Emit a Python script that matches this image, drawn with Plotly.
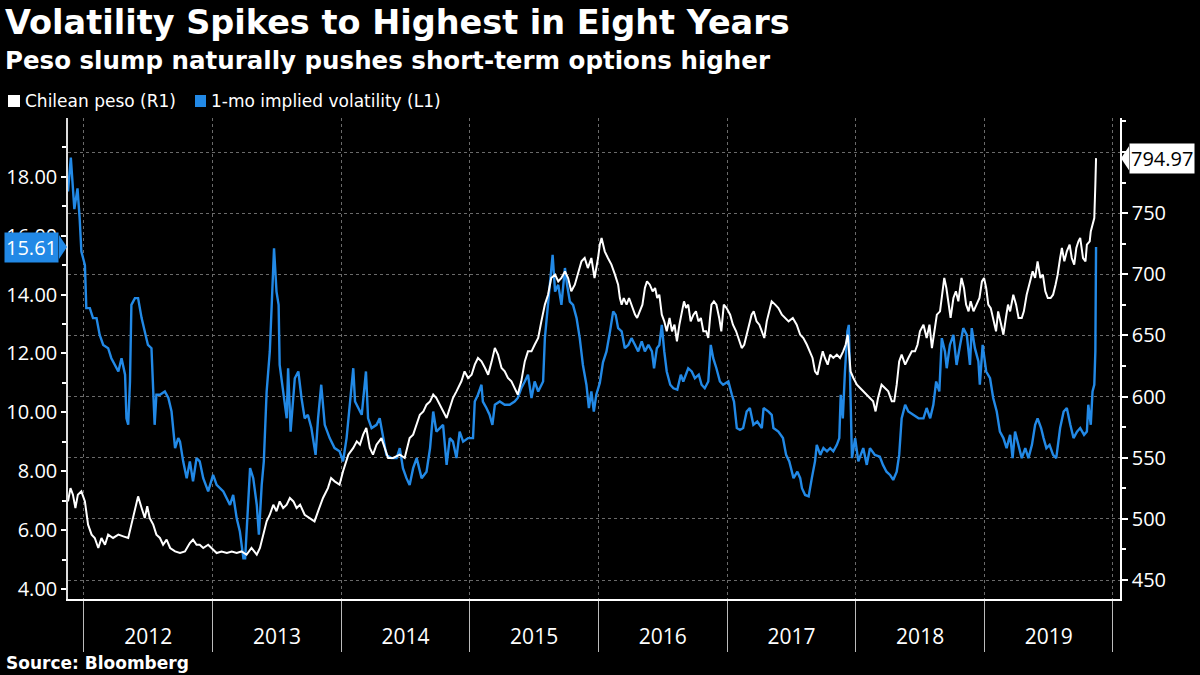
import plotly.graph_objects as go

# ---------------- data ----------------
vol_dates = [
    "2011-11-17", "2011-11-25", "2011-12-05", "2011-12-14", "2011-12-20", "2011-12-25",
    "2012-01-04", "2012-01-08", "2012-01-18", "2012-01-27", "2012-02-06", "2012-02-15",
    "2012-02-25", "2012-03-10", "2012-03-19", "2012-03-29", "2012-04-08", "2012-04-17",
    "2012-04-27", "2012-05-01", "2012-05-06", "2012-05-11", "2012-05-15", "2012-05-25",
    "2012-06-03", "2012-06-13", "2012-06-22", "2012-07-01", "2012-07-11", "2012-07-16",
    "2012-07-20", "2012-07-25", "2012-08-04", "2012-08-18", "2012-08-28", "2012-09-06",
    "2012-09-16", "2012-09-25", "2012-09-30", "2012-10-09", "2012-10-19", "2012-10-28",
    "2012-11-06", "2012-11-16", "2012-11-25", "2012-12-05", "2012-12-19", "2013-01-02",
    "2013-01-12", "2013-01-31", "2013-02-10", "2013-02-19", "2013-02-28", "2013-03-10",
    "2013-03-19", "2013-03-29", "2013-04-03", "2013-04-17", "2013-04-26", "2013-05-06",
    "2013-05-12", "2013-05-20", "2013-05-26", "2013-06-03", "2013-06-12", "2013-06-20",
    "2013-06-24", "2013-07-01", "2013-07-07", "2013-07-10", "2013-07-20", "2013-07-30",
    "2013-08-03", "2013-08-10", "2013-08-22", "2013-09-01", "2013-09-10", "2013-09-19",
    "2013-09-28", "2013-10-08", "2013-10-20", "2013-10-27", "2013-11-05", "2013-11-15",
    "2013-11-29", "2013-12-13", "2013-12-27", "2014-01-06", "2014-01-16", "2014-01-25",
    "2014-02-04", "2014-02-09", "2014-02-18", "2014-02-28", "2014-03-12", "2014-03-18",
    "2014-03-28", "2014-04-11", "2014-04-20", "2014-04-29", "2014-05-09", "2014-05-23",
    "2014-06-07", "2014-06-16", "2014-06-25", "2014-07-05", "2014-07-14", "2014-07-24",
    "2014-08-03", "2014-08-17", "2014-08-31", "2014-09-10", "2014-09-19", "2014-09-28",
    "2014-10-08", "2014-10-17", "2014-10-27", "2014-11-05", "2014-11-14", "2014-11-24",
    "2014-12-03", "2014-12-13", "2014-12-27", "2015-01-10", "2015-01-15", "2015-01-24",
    "2015-02-03", "2015-02-07", "2015-02-17", "2015-02-26", "2015-03-06", "2015-03-13",
    "2015-03-27", "2015-04-10", "2015-04-24", "2015-05-08", "2015-05-17", "2015-05-27",
    "2015-06-06", "2015-06-15", "2015-06-25", "2015-07-04", "2015-07-14", "2015-07-28",
    "2015-08-02", "2015-08-11", "2015-08-24", "2015-08-31", "2015-09-09", "2015-09-18",
    "2015-09-28", "2015-10-04", "2015-10-12", "2015-10-21", "2015-10-31", "2015-11-09",
    "2015-11-18", "2015-11-28", "2015-12-05", "2015-12-12", "2015-12-19", "2015-12-26",
    "2016-01-05", "2016-01-14", "2016-01-24", "2016-02-03", "2016-02-12", "2016-02-19",
    "2016-02-26", "2016-03-07", "2016-03-16", "2016-03-26", "2016-04-04", "2016-04-14",
    "2016-04-23", "2016-05-03", "2016-05-12", "2016-05-22", "2016-06-01", "2016-06-07",
    "2016-06-15", "2016-06-22", "2016-06-29", "2016-07-06", "2016-07-13", "2016-07-23",
    "2016-08-01", "2016-08-12", "2016-08-22", "2016-08-29", "2016-09-12", "2016-09-22",
    "2016-10-01", "2016-10-12", "2016-10-20", "2016-10-29", "2016-11-08", "2016-11-15",
    "2016-11-22", "2016-12-01", "2016-12-11", "2016-12-20", "2017-01-04", "2017-01-14",
    "2017-01-20", "2017-01-28", "2017-02-06", "2017-02-15", "2017-02-25", "2017-03-06",
    "2017-03-16", "2017-03-27", "2017-04-09", "2017-04-14", "2017-04-28", "2017-05-07",
    "2017-05-12", "2017-05-26", "2017-06-08", "2017-06-17", "2017-06-26", "2017-07-08",
    "2017-07-19", "2017-07-27", "2017-08-01", "2017-08-10", "2017-08-20", "2017-08-29",
    "2017-09-07", "2017-09-12", "2017-09-22", "2017-10-01", "2017-10-11", "2017-10-20",
    "2017-10-29", "2017-11-08", "2017-11-15", "2017-11-19", "2017-11-25", "2017-12-01",
    "2017-12-08", "2017-12-12", "2017-12-16", "2017-12-21", "2017-12-30", "2018-01-08",
    "2018-01-22", "2018-02-01", "2018-02-10", "2018-02-24", "2018-03-10", "2018-03-19",
    "2018-03-29", "2018-04-08", "2018-04-17", "2018-04-27", "2018-05-04", "2018-05-11",
    "2018-05-21", "2018-05-30", "2018-06-13", "2018-06-28", "2018-07-12", "2018-07-21",
    "2018-07-31", "2018-08-09", "2018-08-17", "2018-08-26", "2018-09-02", "2018-09-11",
    "2018-09-16", "2018-09-25", "2018-10-05", "2018-10-14", "2018-10-24", "2018-11-02",
    "2018-11-12", "2018-11-21", "2018-11-26", "2018-12-05", "2018-12-15", "2018-12-19",
    "2018-12-27", "2019-01-06", "2019-01-17", "2019-01-26", "2019-02-05", "2019-02-14",
    "2019-02-24", "2019-03-05", "2019-03-15", "2019-03-22", "2019-03-29", "2019-04-08",
    "2019-04-17", "2019-04-27", "2019-05-06", "2019-05-16", "2019-05-25", "2019-06-01",
    "2019-06-11", "2019-06-18", "2019-06-26", "2019-07-05", "2019-07-15", "2019-07-24",
    "2019-08-04", "2019-08-14", "2019-08-23", "2019-09-02", "2019-09-11", "2019-09-21",
    "2019-09-30", "2019-10-11", "2019-10-19", "2019-10-23", "2019-10-30", "2019-11-04",
    "2019-11-09", "2019-11-12", "2019-11-14",
]
vol_values = [
    17.5, 18.65, 16.9, 17.6, 16.6, 15.46,
    15.0, 13.54, 13.54, 13.2, 13.2, 12.63,
    12.29, 12.18, 11.84, 11.61, 11.39, 11.84,
    11.28, 9.8, 9.58, 11.05, 13.65, 13.88,
    13.88, 13.2, 12.75, 12.29, 12.18, 10.93,
    9.58, 10.6, 10.6, 10.71, 10.49, 10.03,
    8.79, 9.13, 9.01, 8.34, 7.77, 8.34,
    7.66, 8.45, 8.34, 7.77, 7.32, 7.88,
    7.54, 7.32, 7.09, 6.86, 7.2, 6.41,
    5.96, 5.05, 5.05, 8.11, 7.77, 6.86,
    5.85, 7.54, 8.34, 10.71, 12.07, 14.33,
    15.57, 14.1, 13.65, 11.61, 10.71, 9.8,
    11.5, 9.35, 11.16, 11.39, 10.49, 9.8,
    9.92, 9.47, 8.56, 9.8, 10.94, 9.58,
    9.13, 8.79, 8.68, 8.34, 9.13, 10.37,
    11.5, 10.37, 10.15, 9.92, 11.39, 9.8,
    9.47, 9.58, 9.8, 9.24, 8.56, 8.45,
    8.45, 8.79, 8.11, 7.77, 7.54, 8.11,
    8.45, 7.77, 7.99, 8.79, 10.03, 9.35,
    9.47, 9.58, 8.22, 9.13, 9.01, 8.45,
    9.35, 9.01, 9.13, 9.13, 10.37, 10.6,
    10.94, 10.37, 10.15, 9.92, 9.58, 10.26,
    10.37, 10.26, 10.26, 10.37, 10.49, 10.82,
    11.05, 11.28, 10.49, 11.05, 10.71, 11.05,
    12.52, 13.65, 15.35, 14.1, 14.33, 13.65,
    14.9, 14.33, 13.76, 13.65, 13.2, 12.52,
    11.61, 10.94, 10.15, 10.71, 10.03, 10.6,
    11.0, 11.7, 12.07, 12.75, 13.43, 13.31,
    12.86, 12.75, 12.18, 12.29, 12.52, 12.29,
    12.07, 12.41, 12.07, 12.29, 12.07, 11.5,
    12.18, 12.29, 12.97, 12.07, 11.39, 10.94,
    10.82, 10.77, 11.28, 11.05, 11.5, 11.39,
    11.16, 11.28, 10.94, 10.82, 11.05, 12.29,
    11.84, 11.5, 11.05, 10.94, 11.05, 10.6,
    10.37, 9.47, 9.41, 9.47, 10.03, 10.15,
    9.58, 9.69, 9.47, 10.15, 10.03, 9.92,
    9.47, 9.35, 9.13, 8.56, 8.34, 7.77,
    7.99, 7.77, 7.43, 7.2, 7.15, 7.77,
    8.34, 8.9, 8.56, 8.79, 8.68, 8.79,
    8.68, 8.9, 9.13, 10.6, 9.8, 11.39,
    12.75, 12.97, 10.94, 8.45, 9.13, 8.34,
    8.79, 8.22, 8.79, 8.56, 8.5, 8.22,
    7.99, 7.88, 7.71, 7.99, 8.56, 9.8,
    10.26, 10.03, 9.92, 9.8, 9.8, 10.15,
    9.8, 10.26, 11.05, 10.71, 12.52, 12.07,
    11.5, 12.29, 12.63, 11.61, 12.29, 12.86,
    12.63, 11.61, 12.86, 12.18, 11.73, 10.94,
    12.29, 11.39, 11.16, 10.49, 10.03, 9.35,
    9.13, 8.79, 9.24, 8.45, 9.35, 8.9,
    8.45, 8.79, 8.45, 8.9, 9.58, 9.8,
    9.47, 9.13, 8.79, 8.9, 8.56, 8.45,
    9.47, 10.03, 10.15, 9.58, 9.13, 9.35,
    9.47, 9.24, 9.35, 10.26, 9.58, 10.71,
    10.94, 12.07, 15.61,
]

peso_dates = [
    "2011-11-17", "2011-11-24", "2011-12-01", "2011-12-08", "2011-12-15", "2011-12-25",
    "2012-01-04", "2012-01-13", "2012-01-23", "2012-02-01", "2012-02-11", "2012-02-20",
    "2012-03-01", "2012-03-10", "2012-03-24", "2012-04-08", "2012-04-22", "2012-05-06",
    "2012-05-15", "2012-05-25", "2012-06-03", "2012-06-13", "2012-06-22", "2012-06-29",
    "2012-07-06", "2012-07-16", "2012-07-25", "2012-08-04", "2012-08-13", "2012-08-23",
    "2012-09-02", "2012-09-16", "2012-09-30", "2012-10-14", "2012-10-28", "2012-11-06",
    "2012-11-16", "2012-11-25", "2012-12-05", "2012-12-19", "2012-12-29", "2013-01-12",
    "2013-01-26", "2013-02-10", "2013-02-24", "2013-03-10", "2013-03-24", "2013-04-07",
    "2013-04-21", "2013-05-06", "2013-05-15", "2013-05-24", "2013-06-03", "2013-06-12",
    "2013-06-22", "2013-07-01", "2013-07-10", "2013-07-20", "2013-07-30", "2013-08-08",
    "2013-08-18", "2013-08-27", "2013-09-06", "2013-09-19", "2013-10-03", "2013-10-17",
    "2013-10-27", "2013-11-10", "2013-11-24", "2013-12-03", "2013-12-13", "2013-12-27",
    "2014-01-06", "2014-01-21", "2014-02-04", "2014-02-14", "2014-02-23", "2014-03-04",
    "2014-03-13", "2014-03-23", "2014-04-01", "2014-04-11", "2014-04-25", "2014-05-05",
    "2014-05-14", "2014-05-28", "2014-06-16", "2014-06-30", "2014-07-14", "2014-07-24",
    "2014-08-03", "2014-08-12", "2014-08-22", "2014-08-31", "2014-09-10", "2014-09-19",
    "2014-09-28", "2014-10-08", "2014-10-17", "2014-10-27", "2014-11-05", "2014-11-14",
    "2014-11-24", "2014-12-08", "2014-12-17", "2014-12-27", "2015-01-06", "2015-01-15",
    "2015-01-24", "2015-02-03", "2015-02-13", "2015-02-22", "2015-03-04", "2015-03-13",
    "2015-03-22", "2015-04-01", "2015-04-10", "2015-04-19", "2015-04-29", "2015-05-08",
    "2015-05-17", "2015-05-27", "2015-06-06", "2015-06-15", "2015-06-25", "2015-07-04",
    "2015-07-14", "2015-07-23", "2015-08-02", "2015-08-11", "2015-08-20", "2015-08-31",
    "2015-09-09", "2015-09-18", "2015-09-28", "2015-10-07", "2015-10-16", "2015-10-26",
    "2015-11-04", "2015-11-14", "2015-11-23", "2015-12-02", "2015-12-12", "2015-12-21",
    "2015-12-31", "2016-01-05", "2016-01-10", "2016-01-19", "2016-01-28", "2016-02-07",
    "2016-02-17", "2016-02-26", "2016-03-02", "2016-03-07", "2016-03-13", "2016-03-21",
    "2016-03-28", "2016-04-04", "2016-04-14", "2016-04-20", "2016-04-28", "2016-05-05",
    "2016-05-12", "2016-05-18", "2016-05-26", "2016-06-03", "2016-06-10", "2016-06-16",
    "2016-06-22", "2016-06-29", "2016-07-06", "2016-07-13", "2016-07-21", "2016-07-28",
    "2016-08-04", "2016-08-11", "2016-08-18", "2016-08-25", "2016-08-31", "2016-09-06",
    "2016-09-12", "2016-09-19", "2016-09-27", "2016-10-04", "2016-10-11", "2016-10-18",
    "2016-10-25", "2016-11-02", "2016-11-08", "2016-11-13", "2016-11-17", "2016-11-24",
    "2016-12-01", "2016-12-09", "2016-12-15", "2016-12-22", "2016-12-30", "2017-01-09",
    "2017-01-17", "2017-01-26", "2017-02-05", "2017-02-11", "2017-02-18", "2017-02-25",
    "2017-03-04", "2017-03-11", "2017-03-17", "2017-03-25", "2017-04-02", "2017-04-09",
    "2017-04-16", "2017-04-23", "2017-05-01", "2017-05-07", "2017-05-17", "2017-05-26",
    "2017-06-05", "2017-06-14", "2017-06-24", "2017-07-06", "2017-07-17", "2017-07-27",
    "2017-08-05", "2017-08-15", "2017-08-24", "2017-08-31", "2017-09-07", "2017-09-14",
    "2017-09-22", "2017-09-29", "2017-10-05", "2017-10-13", "2017-10-20", "2017-10-29",
    "2017-11-08", "2017-11-17", "2017-11-26", "2017-12-03", "2017-12-09", "2017-12-13",
    "2017-12-17", "2017-12-25", "2018-01-04", "2018-01-13", "2018-01-22", "2018-02-01",
    "2018-02-10", "2018-02-19", "2018-02-26", "2018-03-05", "2018-03-15", "2018-03-24",
    "2018-04-03", "2018-04-13", "2018-04-20", "2018-04-27", "2018-05-04", "2018-05-11",
    "2018-05-21", "2018-05-30", "2018-06-09", "2018-06-18", "2018-06-25", "2018-07-02",
    "2018-07-12", "2018-07-21", "2018-07-29", "2018-08-05", "2018-08-11", "2018-08-19",
    "2018-08-28", "2018-09-05", "2018-09-09", "2018-09-15", "2018-09-21", "2018-09-27",
    "2018-10-05", "2018-10-12", "2018-10-19", "2018-10-28", "2018-11-04", "2018-11-10",
    "2018-11-17", "2018-11-23", "2018-12-01", "2018-12-10", "2018-12-18", "2018-12-25",
    "2018-12-31", "2019-01-06", "2019-01-12", "2019-01-19", "2019-01-26", "2019-02-03",
    "2019-02-09", "2019-02-16", "2019-02-24", "2019-03-03", "2019-03-09", "2019-03-15",
    "2019-03-24", "2019-04-01", "2019-04-08", "2019-04-17", "2019-04-23", "2019-05-01",
    "2019-05-10", "2019-05-18", "2019-05-25", "2019-06-01", "2019-06-09", "2019-06-16",
    "2019-06-23", "2019-06-30", "2019-07-08", "2019-07-15", "2019-07-22", "2019-07-28",
    "2019-08-04", "2019-08-09", "2019-08-16", "2019-08-23", "2019-08-31", "2019-09-06",
    "2019-09-13", "2019-09-19", "2019-09-25", "2019-09-30", "2019-10-08", "2019-10-15",
    "2019-10-19", "2019-10-27", "2019-10-30", "2019-11-04", "2019-11-07", "2019-11-09",
    "2019-11-12", "2019-11-14",
]
peso_values = [
    514.3, 525.2, 519.8, 508.9, 519.8, 522.5,
    514.3, 495.3, 487.1, 484.4, 476.2, 484.4,
    478.9, 487.1, 484.4, 487.1, 485.7, 484.4,
    495.3, 508.9, 518.4, 508.9, 500.7, 510.3,
    500.7, 495.3, 487.1, 484.4, 478.9, 483.0,
    476.2, 473.4, 472.1, 473.4, 480.3, 483.0,
    478.9, 478.9, 476.2, 478.9, 476.2, 472.1,
    473.4, 472.1, 473.4, 472.1, 473.4, 470.7,
    476.2, 470.7, 476.2, 487.1, 498.0, 503.4,
    511.6, 506.2, 514.3, 508.9, 511.6, 517.1,
    514.3, 508.9, 511.6, 503.4, 500.7, 498.0,
    506.2, 517.1, 525.2, 533.4, 530.7, 528.0,
    538.9, 552.5, 558.0, 563.4, 560.7, 568.9,
    574.3, 558.0, 552.5, 560.7, 566.1, 558.0,
    549.8, 549.8, 552.5, 549.8, 566.1, 568.9,
    577.0, 585.2, 587.9, 593.4, 596.1, 601.6,
    598.8, 593.4, 587.9, 582.5, 590.7, 598.8,
    604.3, 612.5, 620.6, 615.2, 617.9, 626.1,
    631.6, 628.8, 623.4, 617.9, 628.8, 639.7,
    634.3, 623.4, 620.6, 615.2, 612.5, 607.0,
    601.6, 612.5, 628.8, 637.0, 637.0, 642.4,
    647.9, 661.5, 675.2, 683.3, 697.0, 699.7,
    694.2, 697.0, 702.4, 697.0, 686.1, 691.5,
    699.7, 710.6, 713.3, 705.1, 713.3, 697.0,
    713.3, 724.2, 729.7, 718.8, 713.3, 707.9,
    699.7, 691.5, 680.6, 675.2, 680.6, 675.2,
    680.6, 675.2, 667.0, 664.3, 669.7, 675.2,
    688.8, 694.2, 691.5, 686.1, 688.8, 680.6,
    683.3, 667.0, 661.5, 653.4, 664.3, 653.4,
    658.8, 645.2, 658.8, 669.7, 677.9, 672.4,
    675.2, 661.5, 667.0, 669.7, 661.5, 664.3,
    653.4, 653.4, 647.9, 664.3, 675.2, 677.9,
    675.2, 664.3, 653.4, 675.2, 672.4, 667.0,
    658.8, 653.4, 645.2, 639.7, 642.4, 650.6,
    658.8, 667.0, 669.7, 661.5, 658.8, 653.4,
    647.9, 661.5, 672.4, 677.9, 675.2, 672.4,
    667.0, 664.3, 661.5, 664.3, 658.8, 650.6,
    647.9, 642.4, 637.0, 631.6, 620.6, 617.9,
    628.8, 637.0, 631.6, 626.1, 634.3, 631.6,
    634.3, 631.6, 637.0, 642.4, 650.6, 637.0,
    620.6, 615.2, 609.7, 607.0, 604.3, 601.6,
    598.8, 596.1, 587.9, 598.8, 609.7, 607.0,
    604.3, 596.1, 596.1, 609.7, 628.8, 634.3,
    626.1, 631.6, 637.0, 637.0, 642.4, 653.4,
    658.8, 647.9, 658.8, 639.7, 653.4, 667.0,
    669.7, 691.5, 697.0, 688.8, 675.2, 664.3,
    680.6, 686.1, 677.9, 697.0, 688.8, 675.2,
    669.7, 677.9, 669.7, 675.2, 680.6, 694.2,
    697.0, 688.8, 675.2, 672.4, 664.3, 653.4,
    669.7, 661.5, 650.6, 664.3, 675.2, 669.7,
    683.3, 675.2, 664.3, 664.3, 669.7, 683.3,
    694.2, 702.4, 697.0, 710.6, 697.0, 699.7,
    686.1, 680.6, 680.6, 683.3, 691.5, 699.7,
    713.3, 721.5, 710.6, 718.8, 724.2, 713.3,
    707.9, 721.5, 727.0, 729.7, 713.3, 710.6,
    724.2, 727.0, 735.1, 740.6, 743.3, 746.0,
    773.3, 794.97,
]

series_names = ["Chilean peso (R1)", "1-mo implied volatility (L1)"]
left_ticks = [4, 6, 8, 10, 12, 14, 16, 18]
right_ticks = [450, 500, 550, 600, 650, 700, 750, 800]

title_text = "Volatility Spikes to Highest in Eight Years"
subtitle_text = "Peso slump naturally pushes short-term options higher"
source_text = "Source: Bloomberg"

# ---------------- styling ----------------
BLUE = "#2289E6"
WHITE = "#FFFFFF"
GRID = "#6a6a6a"
FONT = "Open Sans"
HEAD = "DejaVu Sans"

W, H = 1200, 675
ML, MR, MT, MB = 68, 80, 118, 76
PW, PH = W - ML - MR, H - MT - MB


def px_x(px):
    return (px - ML) / PW


def px_y(py):
    return (H - MB - py) / PH


fig = go.Figure()
fig.add_trace(go.Scatter(x=vol_dates, y=vol_values, yaxis="y", mode="lines",
                         line=dict(color=BLUE, width=2.4), name=series_names[1],
                         showlegend=False))
fig.add_trace(go.Scatter(x=peso_dates, y=peso_values, yaxis="y2", mode="lines",
                         line=dict(color=WHITE, width=2), name=series_names[0],
                         showlegend=False))

fig.update_layout(
    width=W, height=H,
    paper_bgcolor="black", plot_bgcolor="black",
    margin=dict(l=ML, r=MR, t=MT, b=MB, autoexpand=False),
    font=dict(family=FONT, color=WHITE),
    showlegend=False,
    xaxis=dict(
        type="date", range=["2011-11-17", "2020-01-21"], automargin=False,
        showline=True, linecolor=WHITE, linewidth=1.5,
        ticks="outside", ticklen=51, tickcolor="#bbbbbb", tickwidth=1,
        tick0="2012-01-01", dtick="M12", tickformat="%Y", ticklabelmode="period",
        ticklabelstandoff=-33,
        tickfont=dict(family=FONT, size=21, color=WHITE),
        showgrid=True, gridcolor=GRID, griddash="dot", gridwidth=1,
        zeroline=False,
    ),
    yaxis=dict(
        range=[3.67, 19.99], tickmode="array", tickvals=left_ticks, automargin=False,
        ticktext=[f"{v:.2f}" for v in left_ticks],
        ticks="outside", ticklen=5, tickwidth=2, tickcolor=WHITE,
        minor=dict(ticks="outside", ticklen=4, tickcolor=WHITE, dtick=1, tick0=3, showgrid=False),
        showline=True, linecolor="#dddddd", linewidth=1.5,
        showgrid=False, zeroline=False,
        tickfont=dict(family=FONT, size=20, color=WHITE),
    ),
    yaxis2=dict(
        overlaying="y", side="right", automargin=False,
        range=[434.5, 827.8], tickmode="array", tickvals=right_ticks,
        ticks="outside", ticklen=6, tickwidth=2, tickcolor=WHITE,
        minor=dict(ticks="outside", ticklen=4, tickcolor=WHITE, dtick=25, tick0=425, showgrid=False),
        showline=True, linecolor=WHITE, linewidth=1.5,
        showgrid=True, gridcolor=GRID, griddash="dot", gridwidth=1, zeroline=False,
        tickfont=dict(family=FONT, size=20, color=WHITE),
    ),
)

annotations = [
    dict(text=f"<b>{title_text}</b>", xref="paper", yref="paper", x=px_x(3), y=px_y(22),
         xanchor="left", yanchor="middle", showarrow=False,
         font=dict(family=HEAD, size=33.5, color=WHITE)),
    dict(text=f"<b>{subtitle_text}</b>", xref="paper", yref="paper", x=px_x(3), y=px_y(60),
         xanchor="left", yanchor="middle", showarrow=False,
         font=dict(family=HEAD, size=24.5, color=WHITE)),
    dict(text=f"<b>{source_text}</b>", xref="paper", yref="paper", x=px_x(4), y=px_y(663),
         xanchor="left", yanchor="middle", showarrow=False,
         font=dict(family=HEAD, size=17, color=WHITE)),
    dict(text=series_names[0], xref="paper", yref="paper", x=px_x(23), y=px_y(101),
         xanchor="left", yanchor="middle", showarrow=False,
         font=dict(family=HEAD, size=17, color=WHITE)),
    dict(text=series_names[1], xref="paper", yref="paper", x=px_x(209), y=px_y(101),
         xanchor="left", yanchor="middle", showarrow=False,
         font=dict(family=HEAD, size=17, color=WHITE)),
    # last-value labels
    dict(text=f"{vol_values[-1]:.2f}", xref="paper", yref="y", x=px_x(59), y=vol_values[-1],
         xanchor="right", yanchor="middle", showarrow=False, bgcolor=BLUE, borderpad=1,
         font=dict(family=FONT, size=20, color=WHITE)),
    dict(text=f"{peso_values[-1]:.2f}", xref="paper", yref="y2", x=px_x(1129), y=peso_values[-1],
         xanchor="left", yanchor="middle", showarrow=False, bgcolor=WHITE, borderpad=1,
         font=dict(family=FONT, size=20, color="black")),
]
fig.update_layout(annotations=annotations)

shapes = [
    # legend squares
    dict(type="rect", xref="paper", yref="paper", x0=px_x(8), x1=px_x(20), y0=px_y(107), y1=px_y(95),
         fillcolor=WHITE, line=dict(width=0)),
    dict(type="rect", xref="paper", yref="paper", x0=px_x(195), x1=px_x(206), y0=px_y(107), y1=px_y(95),
         fillcolor=BLUE, line=dict(width=0)),
    # pointer of the last-value labels
    dict(type="path", xref="paper", yref="y", xsizemode="pixel", ysizemode="pixel",
         xanchor=px_x(59), yanchor=vol_values[-1], path="M 0,-12 L 8,0 L 0,12 Z",
         fillcolor=BLUE, line=dict(width=0)),
    dict(type="path", xref="paper", yref="y2", xsizemode="pixel", ysizemode="pixel",
         xanchor=px_x(1129), yanchor=peso_values[-1], path="M 0,-12 L -8,0 L 0,12 Z",
         fillcolor=WHITE, line=dict(width=0)),
]
fig.update_layout(shapes=shapes)

fig.write_html(
    "out.html",
    config={"displayModeBar": False},
    post_script="document.body.style.margin='0px'; document.body.style.background='black';",
)
